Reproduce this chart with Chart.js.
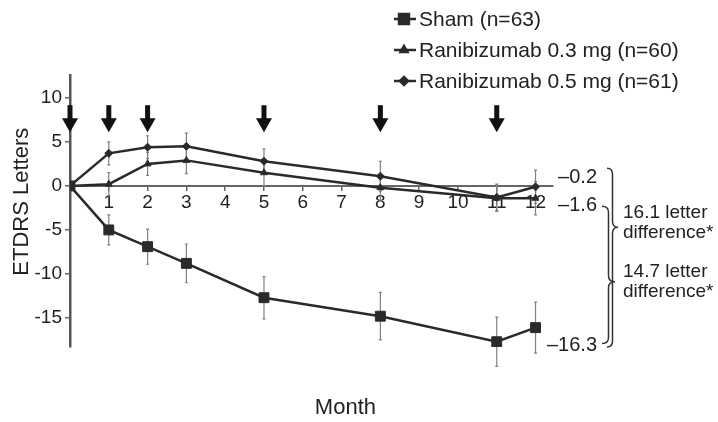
<!DOCTYPE html>
<html>
<head>
<meta charset="utf-8">
<script src="https://cdn.jsdelivr.net/npm/chart.js@4/dist/chart.umd.min.js"></script>
<style>
html,body{margin:0;padding:0;background:#fff;}
#wrap{position:relative;width:718px;height:422px;}
</style>
</head>
<body>
<div id="wrap"><canvas id="c" width="718" height="422"></canvas></div>
<script>
// ---- data ----
const months   = [0, 1, 2, 3, 5, 8, 11, 12];
const shamMean = [0, -5.0, -6.9, -8.8, -12.7, -14.8, -17.7, -16.1];
const shamErr  = [0, 1.7, 2.0, 2.2, 2.4, 2.7, 2.8, 2.9];
const r03Mean  = [0, 0.2, 2.5, 2.9, 1.5, -0.2, -1.4, -1.4];
const r03Err   = [0, 1.3, 1.3, 1.5, 1.5, 1.5, 1.5, 1.9];
const r05Mean  = [0, 3.7, 4.4, 4.5, 2.8, 1.1, -1.3, -0.1];
const r05Err   = [0, 1.3, 1.3, 1.5, 1.4, 1.7, 1.5, 1.9];
const seriesNames = ['Sham (n=63)', 'Ranibizumab 0.3 mg (n=60)', 'Ranibizumab 0.5 mg (n=61)'];
const arrowMonths = [0, 1, 2, 5, 8, 11];
const yTickValues = [10, 5, 0, -5, -10, -15];
const xTickValues = [1, 2, 3, 4, 5, 6, 7, 8, 9, 10, 11, 12];
const endLabels = ['\u20130.2', '\u20131.6', '\u201316.3'];
const endValues = [-0.2, -1.6, -16.3];
const diffLabels = [['16.1 letter', 'difference*'], ['14.7 letter', 'difference*']];
const xTitle = 'Month';
const yTitle = 'ETDRS Letters';

const FONT = "'Liberation Sans', Arial, Helvetica, sans-serif";
const INK = '#2a2a2a';
Chart.defaults.font.family = FONT;
Chart.defaults.color = '#222';

const pts = (ys) => months.map((m, i) => ({x: m, y: ys[i]}));

const errorBars = {
  id: 'errorBars',
  beforeDatasetsDraw(chart) {
    const ctx = chart.ctx, xs = chart.scales.x, ys = chart.scales.y;
    ctx.save();
    ctx.strokeStyle = '#808080';
    ctx.lineWidth = 1.2;
    chart.data.datasets.forEach(ds => {
      ds.data.forEach((p, i) => {
        const e = ds.errors[i];
        if (!e) return;
        const x = xs.getPixelForValue(p.x);
        const y1 = ys.getPixelForValue(p.y + e), y2 = ys.getPixelForValue(p.y - e);
        ctx.beginPath();
        ctx.moveTo(x, y1); ctx.lineTo(x, y2);
        ctx.moveTo(x - 1.5, y1); ctx.lineTo(x + 1.5, y1);
        ctx.moveTo(x - 1.5, y2); ctx.lineTo(x + 1.5, y2);
        ctx.stroke();
      });
    });
    ctx.restore();
  }
};

function brace(ctx, x, yTop, yBot, yTip, w) {
  const r = 6, m = x + w / 2;
  ctx.beginPath();
  ctx.moveTo(x, yTop);
  ctx.quadraticCurveTo(m, yTop, m, yTop + r);
  ctx.lineTo(m, yTip - r);
  ctx.quadraticCurveTo(m, yTip, x + w, yTip);
  ctx.quadraticCurveTo(m, yTip, m, yTip + r);
  ctx.lineTo(m, yBot - r);
  ctx.quadraticCurveTo(m, yBot, x, yBot);
  ctx.stroke();
}

const annotations = {
  id: 'annotations',
  afterDraw(chart) {
    const ctx = chart.ctx, xs = chart.scales.x, ys = chart.scales.y;
    const area = chart.chartArea;
    ctx.save();
    // dosing arrows
    ctx.fillStyle = '#111';
    arrowMonths.forEach(m => {
      const x = xs.getPixelForValue(m);
      const tip = ys.getPixelForValue(6.1);
      ctx.fillRect(x - 2.5, tip - 27, 5, 15);
      ctx.beginPath();
      ctx.moveTo(x - 8, tip - 14);
      ctx.lineTo(x + 8, tip - 14);
      ctx.lineTo(x, tip);
      ctx.closePath();
      ctx.fill();
    });
    // axis titles
    ctx.fillStyle = '#222';
    ctx.textAlign = 'center';
    ctx.textBaseline = 'middle';
    ctx.font = '22px ' + FONT;
    ctx.fillText(xTitle, xs.getPixelForValue(7.1), area.bottom + 61);
    ctx.save();
    ctx.translate(22, ys.getPixelForValue(-1.8));
    ctx.rotate(-Math.PI / 2);
    ctx.fillText(yTitle, 0, 0);
    ctx.restore();
    // end value labels
    ctx.font = '20px ' + FONT;
    ctx.textAlign = 'right';
    const offs = [-10, 5, 16];
    endLabels.forEach((t, i) => {
      ctx.fillText(t, area.right + 44, ys.getPixelForValue(endValues[i]) + offs[i]);
    });
    // braces
    ctx.strokeStyle = '#333';
    ctx.lineWidth = 1.5;
    brace(ctx, area.right + 54, ys.getPixelForValue(2.0), ys.getPixelForValue(-18.3), ys.getPixelForValue(-4.7), 11);
    brace(ctx, area.right + 49, ys.getPixelForValue(-2.3), ys.getPixelForValue(-17.9), ys.getPixelForValue(-10.9), 13);
    // difference labels
    ctx.textAlign = 'left';
    ctx.font = '19px ' + FONT;
    const rows = [[-3.0, -5.3], [-9.8, -12.0]];
    diffLabels.forEach((lines, i) => {
      lines.forEach((t, j) => ctx.fillText(t, area.right + 70, ys.getPixelForValue(rows[i][j])));
    });
    // legend
    ctx.font = '21px ' + FONT;
    chart.data.datasets.forEach((ds, i) => {
      const y = 19 + i * 31;
      ctx.strokeStyle = INK; ctx.lineWidth = 2.5;
      ctx.beginPath(); ctx.moveTo(394, y); ctx.lineTo(416, y); ctx.stroke();
      ctx.fillStyle = INK;
      Chart.helpers.drawPoint(ctx, {pointStyle: ds.pointStyle, radius: ds.pointRadius, rotation: 0, borderWidth: 1}, 404, y);
      ctx.fillStyle = '#222';
      ctx.fillText(ds.label, 419, y + 1);
    });
    ctx.restore();
  }
};

new Chart(document.getElementById('c'), {
  type: 'line',
  data: {
    datasets: [
      {label: seriesNames[0], data: pts(shamMean), errors: shamErr, pointStyle: 'rect', pointRadius: 7},
      {label: seriesNames[1], data: pts(r03Mean), errors: r03Err, pointStyle: 'triangle', pointRadius: 4},
      {label: seriesNames[2], data: pts(r05Mean), errors: r05Err, pointStyle: 'rectRot', pointRadius: 4}
    ].map(d => Object.assign(d, {
      borderColor: INK, backgroundColor: INK, pointBackgroundColor: INK, pointBorderColor: INK,
      borderWidth: 2.5, tension: 0, pointBorderWidth: 1
    }))
  },
  options: {
    responsive: false,
    animation: false,
    events: [],
    layout: {padding: {top: 75, right: 165, left: 0, bottom: 75}},
    plugins: {
      legend: {display: false},
      tooltip: {enabled: false}
    },
    scales: {
      x: {
        type: 'linear', min: 0, max: 12.45,
        position: {y: 0},
        afterBuildTicks: s => { s.ticks = xTickValues.map(v => ({value: v})); },
        ticks: {font: {size: 19}, color: '#222', padding: 1, autoSkip: false, maxRotation: 0,
                callback: v => String(v)},
        grid: {drawOnChartArea: false, drawTicks: true, tickLength: 4, color: '#666', lineWidth: 1.5},
        border: {color: '#666', width: 2}
      },
      y: {
        min: -18.3, max: 12.6,
        afterBuildTicks: s => { s.ticks = yTickValues.map(v => ({value: v})); },
        afterFit: s => { s.width = 70; },
        ticks: {font: {size: 19}, color: '#222', padding: 3, callback: v => String(v)},
        grid: {drawOnChartArea: false, drawTicks: true, tickLength: 5, color: '#666', lineWidth: 1.5},
        border: {color: '#555', width: 2.5}
      }
    }
  },
  plugins: [errorBars, annotations]
});
</script>
</body>
</html>
